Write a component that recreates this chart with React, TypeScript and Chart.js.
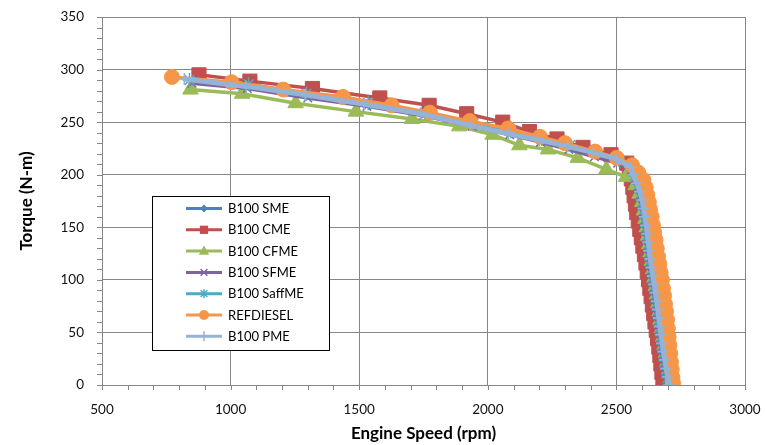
import React, { useEffect, useRef } from "react";
import { Chart, registerables } from "chart.js";

Chart.register(...registerables);

// ---------- data ----------
const seriesNames = ["B100 SME", "B100 CME", "B100 CFME", "B100 SFME", "B100 SaffME", "REFDIESEL", "B100 PME"];

const smeRpm = [860, 1080, 1310, 1540, 1760, 1950, 2090, 2210, 2320, 2420, 2510, 2560, 2582, 2598, 2607, 2614, 2620, 2625, 2630, 2634, 2638, 2642, 2646, 2651, 2656, 2661, 2666, 2671, 2675, 2679, 2683, 2688, 2692, 2697, 2702, 2707, 2712, 2716];
const smeTorque = [290, 285, 276, 268, 259, 249, 241, 234, 227, 220, 214, 206, 198, 190, 182, 174, 166, 158, 150, 142, 134, 126, 118, 110, 102, 94, 86, 78, 70, 62, 54, 46, 38, 30, 22, 14, 6, 0];

const cmeRpm = [877, 1075, 1318, 1580, 1772, 1918, 2058, 2162, 2269, 2370, 2479, 2540, 2550, 2558, 2564, 2569, 2574, 2579, 2585, 2591, 2597, 2603, 2609, 2615, 2620, 2625, 2630, 2635, 2640, 2645, 2650, 2655, 2660, 2665, 2669, 2673, 2677, 2681, 2683];
const cmeTorque = [295, 289, 282, 273, 266, 258, 250, 241, 234, 226, 219, 211, 204, 196, 188, 180, 172, 164, 156, 148, 140, 132, 124, 116, 108, 100, 92, 84, 76, 68, 60, 52, 44, 36, 28, 20, 12, 4, 0];

const cfmeRpm = [844, 1045, 1253, 1487, 1705, 1889, 2019, 2123, 2234, 2350, 2461, 2538, 2575, 2590, 2600, 2607, 2613, 2618, 2623, 2628, 2633, 2638, 2643, 2648, 2653, 2658, 2663, 2668, 2672, 2677, 2682, 2687, 2692, 2698, 2704, 2710, 2714];
const cfmeTorque = [281, 277, 268, 260, 253, 246, 238, 228, 224, 216, 205, 198, 190, 182, 174, 166, 158, 150, 142, 134, 126, 118, 110, 102, 94, 86, 78, 70, 62, 54, 46, 38, 30, 22, 14, 6, 0];

const sfmeRpm = [850, 1065, 1300, 1530, 1750, 1940, 2085, 2205, 2315, 2415, 2505, 2558, 2570, 2582, 2590, 2597, 2602, 2607, 2611, 2615, 2619, 2623, 2627, 2632, 2637, 2642, 2647, 2651, 2655, 2659, 2664, 2668, 2673, 2678, 2683, 2688, 2694, 2698];
const sfmeTorque = [287, 282, 273, 265, 256, 246, 238, 231, 224, 217, 211, 204, 196, 188, 180, 172, 164, 156, 148, 140, 132, 124, 116, 108, 100, 92, 84, 76, 68, 60, 52, 44, 36, 28, 20, 12, 4, 0];

const saffRpm = [840, 1070, 1295, 1535, 1755, 1945, 2090, 2210, 2320, 2420, 2510, 2560, 2572, 2588, 2597, 2604, 2609, 2614, 2619, 2623, 2627, 2631, 2635, 2640, 2645, 2650, 2655, 2660, 2664, 2668, 2672, 2677, 2681, 2686, 2691, 2697, 2702, 2708];
const saffTorque = [290, 286, 277, 268, 259, 249, 241, 234, 228, 221, 214, 207, 199, 191, 183, 175, 167, 159, 151, 143, 135, 127, 119, 111, 103, 95, 87, 79, 71, 63, 55, 47, 39, 31, 23, 15, 7, 0];

const refRpm = [772, 1004, 1205, 1437, 1626, 1775, 1930, 2079, 2203, 2300, 2417, 2501, 2561, 2585, 2605, 2614, 2620, 2626, 2631, 2637, 2642, 2647, 2652, 2657, 2662, 2667, 2672, 2677, 2681, 2685, 2689, 2693, 2697, 2700, 2703, 2706, 2709, 2712, 2715, 2718, 2720];
const refTorque = [293, 288, 281, 274, 266, 259, 251, 244, 236, 230, 222, 216, 209, 202, 195, 188, 181, 174, 167, 160, 152, 145, 138, 130, 122, 115, 107, 100, 92, 85, 77, 70, 62, 54, 46, 38, 30, 22, 15, 7, 2];

const pmeRpm = [820, 1060, 1290, 1520, 1740, 1930, 2080, 2200, 2310, 2410, 2500, 2555, 2565, 2580, 2592, 2600, 2606, 2611, 2616, 2620, 2624, 2628, 2632, 2637, 2642, 2647, 2652, 2657, 2661, 2665, 2669, 2674, 2678, 2683, 2689, 2694, 2700, 2706];
const pmeTorque = [291, 284, 276, 267, 258, 247, 239, 233, 227, 221, 215, 207, 200, 192, 184, 176, 168, 160, 152, 144, 136, 128, 120, 112, 104, 96, 88, 80, 72, 64, 56, 48, 40, 32, 24, 16, 8, 0];

const xTicks = [500, 1000, 1500, 2000, 2500, 3000];
const yTicks = [0, 50, 100, 150, 200, 250, 300, 350];

const colors = ["#4F81BD", "#C0504D", "#9BBB59", "#8064A2", "#4BACC6", "#F79646", "#95B3D7"];
const styles = ["rectRot", "rect", "triangle", "crossRot", "star", "circle", "cross"];
const radii = [5, 10, 9, 6, 7, 7.5, 6];
const legendRadii = [4, 5.5, 5.5, 4.5, 4.5, 5, 5];

const FONT = "Lato, 'Open Sans', sans-serif";

function drawMarker(ctx: CanvasRenderingContext2D, style: string, x: number, y: number, r: number, color: string) {
  ctx.save();
  ctx.fillStyle = color;
  ctx.strokeStyle = color;
  ctx.lineWidth = 1.5;
  ctx.beginPath();
  if (style === "circle") {
    ctx.arc(x, y, r, 0, Math.PI * 2);
    ctx.fill();
  } else if (style === "rect") {
    ctx.rect(x - r * 0.75, y - r * 0.75, r * 1.5, r * 1.5);
    ctx.fill();
  } else if (style === "rectRot") {
    ctx.moveTo(x, y - r); ctx.lineTo(x + r, y); ctx.lineTo(x, y + r); ctx.lineTo(x - r, y); ctx.closePath();
    ctx.fill();
  } else if (style === "triangle") {
    ctx.moveTo(x, y - r); ctx.lineTo(x + r * 0.95, y + r * 0.65); ctx.lineTo(x - r * 0.95, y + r * 0.65); ctx.closePath();
    ctx.fill();
  } else if (style === "crossRot") {
    const d = r * 0.75;
    ctx.moveTo(x - d, y - d); ctx.lineTo(x + d, y + d); ctx.moveTo(x + d, y - d); ctx.lineTo(x - d, y + d);
    ctx.stroke();
  } else if (style === "star") {
    const d = r * 0.75;
    ctx.moveTo(x - d, y - d); ctx.lineTo(x + d, y + d); ctx.moveTo(x + d, y - d); ctx.lineTo(x - d, y + d);
    ctx.moveTo(x - r, y); ctx.lineTo(x + r, y);
    ctx.moveTo(x, y - r); ctx.lineTo(x, y + r);
    ctx.stroke();
  } else if (style === "cross") {
    ctx.moveTo(x - r, y); ctx.lineTo(x + r, y); ctx.moveTo(x, y - r); ctx.lineTo(x, y + r);
    ctx.stroke();
  }
  ctx.restore();
}

const minorTicksPlugin = {
  id: "minorTicks",
  afterDraw(chart: any) {
    const ctx = chart.ctx as CanvasRenderingContext2D;
    const xs = chart.scales.x;
    const ys = chart.scales.y;
    const { left, bottom } = chart.chartArea;
    ctx.save();
    ctx.strokeStyle = "#868686";
    ctx.lineWidth = 1;
    ctx.beginPath();
    for (let v = xs.min; v <= xs.max + 0.001; v += 100) {
      const px = Math.round(xs.getPixelForValue(v)) + 0.5;
      ctx.moveTo(px, bottom);
      ctx.lineTo(px, bottom + 5);
    }
    for (let v = ys.min; v <= ys.max + 0.001; v += 10) {
      const py = Math.round(ys.getPixelForValue(v)) + 0.5;
      ctx.moveTo(left - 5, py);
      ctx.lineTo(left, py);
    }
    ctx.stroke();
    ctx.restore();
  },
};

const legendPlugin = {
  id: "boxLegend",
  afterDraw(chart: any) {
    const ctx = chart.ctx as CanvasRenderingContext2D;
    ctx.save();
    const bx = 152.5, by = 196.5, bw = 177, bh = 154;
    ctx.fillStyle = "#ffffff";
    ctx.fillRect(bx, by, bw, bh);
    ctx.strokeStyle = "#000000";
    ctx.lineWidth = 1;
    ctx.strokeRect(bx, by, bw, bh);
    seriesNames.forEach((name, i) => {
      const y = 208.5 + i * 21.3;
      ctx.strokeStyle = colors[i];
      ctx.lineWidth = 3;
      ctx.beginPath();
      ctx.moveTo(186, y);
      ctx.lineTo(222, y);
      ctx.stroke();
      drawMarker(ctx, styles[i], 204, y, legendRadii[i], colors[i]);
      ctx.fillStyle = "#000000";
      ctx.font = `13px ${FONT}`;
      ctx.textBaseline = "middle";
      ctx.textAlign = "left";
      ctx.fillText(name, 228, y + 0.5);
    });
    ctx.restore();
  },
};

export default function App() {
  const canvasRef = useRef<HTMLCanvasElement | null>(null);

  useEffect(() => {
    if (!canvasRef.current) return;
    const rpms = [smeRpm, cmeRpm, cfmeRpm, sfmeRpm, saffRpm, refRpm, pmeRpm];
    const torques = [smeTorque, cmeTorque, cfmeTorque, sfmeTorque, saffTorque, refTorque, pmeTorque];
    const datasets = seriesNames.map((name, i) => ({
      label: name,
      data: rpms[i].map((r, k) => ({ x: r, y: torques[i][k] })),
      showLine: true,
      borderColor: colors[i],
      backgroundColor: colors[i],
      borderWidth: i === 6 ? 5 : 3.5,
      pointStyle: styles[i],
      pointRadius: radii[i],
      pointBorderWidth: ["crossRot", "star", "cross"].includes(styles[i]) ? 1.5 : 1,
      pointBorderColor: colors[i],
      pointBackgroundColor: colors[i],
      tension: 0,
      order: 7 - i,
    }));

    const chart = new Chart(canvasRef.current, {
      type: "scatter",
      data: { datasets: datasets as any },
      options: {
        animation: false,
        responsive: false,
        maintainAspectRatio: false,
        layout: { padding: { top: 17, right: 20, left: 0, bottom: 0 } },
        plugins: { legend: { display: false }, tooltip: { enabled: false } },
        scales: {
          x: {
            type: "linear",
            min: 500,
            max: 3000,
            afterFit: (s: any) => { s.height = 60; },
            afterBuildTicks: (s: any) => { s.ticks = xTicks.map((v) => ({ value: v })); },
            ticks: { font: { family: FONT, size: 13.5 }, color: "#111", padding: 0, maxRotation: 0, callback: (v: any) => String(v) },
            grid: { color: "#868686", lineWidth: 1, drawTicks: true, tickLength: 17, tickColor: "rgba(0,0,0,0)" },
            border: { color: "#868686", width: 1 },
            title: { display: true, text: "Engine Speed (rpm)", font: { family: FONT, size: 17, weight: "bold" }, color: "#000", padding: { top: 0, bottom: 1 } },
          },
          y: {
            type: "linear",
            min: 0,
            max: 350,
            afterFit: (s: any) => { s.width = 102; },
            afterBuildTicks: (s: any) => { s.ticks = yTicks.map((v) => ({ value: v })); },
            ticks: { font: { family: FONT, size: 13.5 }, color: "#111", padding: 0, callback: (v: any) => String(v) },
            grid: { color: "#868686", lineWidth: 1, drawTicks: true, tickLength: 18, tickColor: "rgba(0,0,0,0)" },
            border: { color: "#868686", width: 1 },
            title: { display: true, text: "Torque (N-m)", font: { family: FONT, size: 17, weight: "bold" }, color: "#000", padding: { top: 16, bottom: 0 } },
          },
        },
      },
      plugins: [minorTicksPlugin, legendPlugin],
    });
    return () => chart.destroy();
  }, []);

  return (
    <div style={{ position: "absolute", left: 0, top: 0, width: 765, height: 445, background: "#fff" }}>
      <canvas ref={canvasRef} width={765} height={445} style={{ width: 765, height: 445, display: "block" }} />
    </div>
  );
}
